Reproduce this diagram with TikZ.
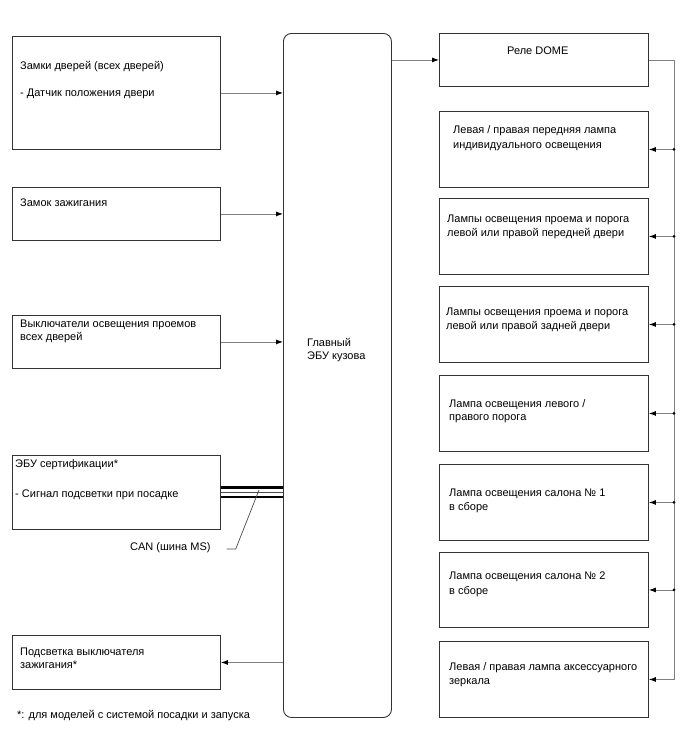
\documentclass[tikz,border=0pt]{standalone}
\usepackage{fontspec}
\setmainfont{Liberation Sans}
\usetikzlibrary{arrows.meta}
\begin{document}
\begin{tikzpicture}[x=1pt,y=-1pt,
  box/.style={draw=black!80, line width=0.9pt, anchor=north west, inner sep=0pt},
  txt/.style={anchor=west, inner sep=0pt, font=\fontsize{11}{14}\selectfont, text height=7.5pt, text depth=2pt},
  conn/.style={draw=black!50, line width=0.8pt},
  arr/.style={conn, -{Latex[length=7pt,width=5pt,black]}},
  jdot/.style={circle, fill=black, inner sep=0pt, minimum size=3pt}
]
\useasboundingbox (0,0) rectangle (688,755);

% central ECU
\node[box, rounded corners=8pt, minimum width=108pt, minimum height=684pt] (ecu) at (283,33) {};
\node[txt] (ecut1) at (307,344) {Главный};
\node[txt] (ecut2) at (307,357) {ЭБУ кузова};

% left boxes
\node[box, minimum width=208pt, minimum height=113pt] (b1) at (12,36) {};
\node[txt] (b1t1) at (20,67) {Замки дверей (всех дверей)};
\node[txt] (b1t2) at (20,94) {- Датчик положения двери};

\node[box, minimum width=208pt, minimum height=53pt] (b2) at (12,187) {};
\node[txt] (b2t1) at (20,204) {Замок зажигания};

\node[box, minimum width=208pt, minimum height=53pt] (b3) at (12,315) {};
\node[txt] (b3t1) at (20,325) {Выключатели освещения проемов};
\node[txt] (b3t2) at (20,338) {всех дверей};

\node[box, minimum width=208pt, minimum height=74pt] (b4) at (12,455) {};
\node[txt] (b4t1) at (15,465) {ЭБУ сертификации*};
\node[txt] (b4t2) at (15,495) {- Сигнал подсветки при посадке};

\node[box, minimum width=208pt, minimum height=54pt] (b5) at (12,635) {};
\node[txt] (b5t1) at (20,653) {Подсветка выключателя};
\node[txt] (b5t2) at (20,666) {зажигания*};

\node[txt] (foot) at (17,716) {*: для моделей с системой посадки и запуска};

% right boxes
\node[box, minimum width=209pt, minimum height=53pt] (dome) at (439,33) {};
\node[txt] (domet) at (507,52) {Реле DOME};

\node[box, minimum width=209pt, minimum height=76pt] (r2) at (439,111) {};
\node[txt] (r2t1) at (453,131) {Левая / правая передняя лампа};
\node[txt] (r2t2) at (453,146) {индивидуального освещения};

\node[box, minimum width=209pt, minimum height=76pt] (r3) at (439,198) {};
\node[txt] (r3t1) at (447,220) {Лампы освещения проема и порога};
\node[txt] (r3t2) at (447,234) {левой или правой передней двери};

\node[box, minimum width=209pt, minimum height=76pt] (r4) at (439,286) {};
\node[txt] (r4t1) at (446,313) {Лампы освещения проема и порога};
\node[txt] (r4t2) at (446,327) {левой или правой задней двери};

\node[box, minimum width=209pt, minimum height=76pt] (r5) at (439,375) {};
\node[txt] (r5t1) at (449,405) {Лампа освещения левого /};
\node[txt] (r5t2) at (449,418) {правого порога};

\node[box, minimum width=209pt, minimum height=76pt] (r6) at (439,464) {};
\node[txt] (r6t1) at (449,494) {Лампа освещения салона № 1};
\node[txt] (r6t2) at (449,508) {в сборе};

\node[box, minimum width=209pt, minimum height=75pt] (r7) at (439,552) {};
\node[txt] (r7t1) at (449,577) {Лампа освещения салона № 2};
\node[txt] (r7t2) at (449,592) {в сборе};

\node[box, minimum width=209pt, minimum height=76pt] (r8) at (439,641) {};
\node[txt] (r8t1) at (449,668) {Левая / правая лампа аксессуарного};
\node[txt] (r8t2) at (449,682) {зеркала};

% inputs to ECU
\draw[arr] (b1.east) -- (b1.east -| ecu.west);
\draw[arr] (b2.east) -- (b2.east -| ecu.west);
\draw[arr] (b3.east) -- (b3.east -| ecu.west);
\draw[arr] (b5.east -| ecu.west) -- (b5.east);
\draw[arr] (dome.west -| ecu.east) -- (dome.west);

% CAN bus
\coordinate (canL) at (b4.east);
\coordinate (canR) at (b4.east -| ecu.west);
\draw[black, line width=2.2pt] ([yshift=5pt]canL) -- ([yshift=5pt]canR);
\draw[black!70, line width=0.7pt] ([yshift=0.5pt]canL) -- ([yshift=0.5pt]canR);
\draw[black, line width=2.6pt] ([yshift=-4.5pt]canL) -- ([yshift=-4.5pt]canR);
\node[txt] (canlbl) at (130,548) {CAN (шина MS)};
\coordinate (canpt) at (259,490);
\draw[draw=black!70, line width=0.7pt] ([xshift=16pt,yshift=-1pt]canlbl.east) -- ([xshift=25pt,yshift=-1pt]canlbl.east) -- (canpt);

% DOME bus
\coordinate (bus) at (674,0);
\draw[arr] (dome.east) -- (dome.east -| bus) -- (r8.east -| bus) -- (r8.east);
\foreach \r in {r2,r3,r4,r5,r6,r7}{
  \draw[arr] (\r.east -| bus) -- (\r.east);
  \node[jdot] (j\r) at (\r.east -| bus) {};
}
\end{tikzpicture}
\end{document}
